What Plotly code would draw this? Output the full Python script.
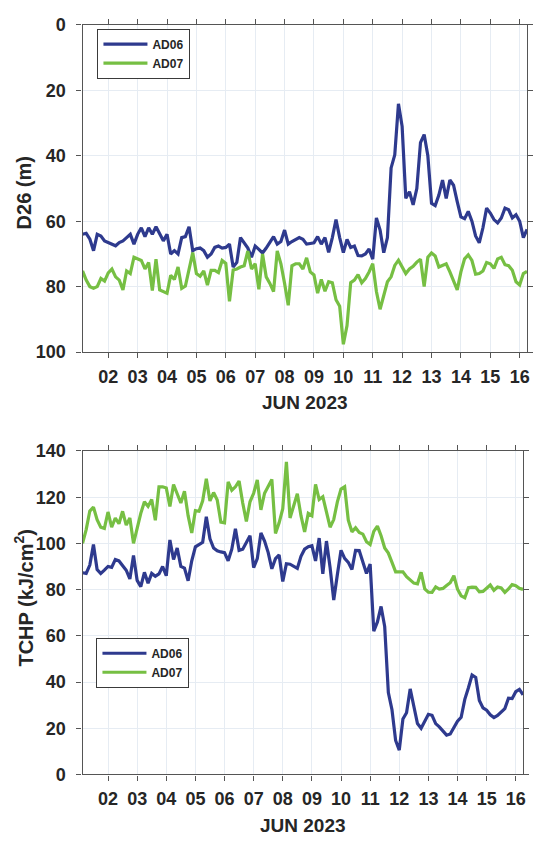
import pandas as pd
import plotly.graph_objects as go

# 3-hourly samples, 2023-06-01 03:00 .. 2023-06-16 06:00
times = pd.date_range("2023-06-01 03:00", periods=122, freq="3h")

d26_ad06 = [
    64, 63.7, 65.5, 69, 64, 64.5, 66, 66.5, 67, 67.5,
    66.5, 66, 65, 64, 67, 64, 62, 64.7, 62, 64,
    61.7, 63.7, 66, 64, 70, 69, 70, 65, 64.7, 61.7,
    69, 68.4, 68.2, 69, 71, 70, 68, 67.6, 68.2, 68,
    67, 74, 72.6, 65, 66.6, 68.2, 71, 67.6, 68.6, 69.7,
    68.2, 66.5, 64.7, 67, 66.2, 62.7, 67, 66.2, 65.5, 65,
    65.5, 67, 66.8, 66.6, 64.7, 67, 65, 69.5, 65, 59.5,
    65, 69.6, 65.6, 68, 67.6, 70.5, 70.6, 70, 68.5, 71.6,
    59, 62.7, 69.6, 65, 43.7, 39.7, 24.1, 31, 53, 51,
    55, 50, 36, 33.5, 40, 54.5, 55.2, 52, 47.4, 53,
    47.4, 49, 54, 58.7, 59.2, 57, 60, 64.5, 66.6, 62,
    56, 57.5, 59.5, 60.5, 59, 56, 56.5, 59, 58, 60,
    65, 62.5,
]

d26_ad07 = [
    75.2, 78, 80, 80.5, 80, 77.5, 78.3, 75.8, 74.6, 77,
    78, 81, 75.2, 76, 71, 71.6, 72, 74.6, 72.6, 81.2,
    71.6, 81, 81.5, 82, 76.5, 77.8, 74, 80.5, 79.8, 75,
    69.6, 76, 76.8, 75.2, 79.5, 75, 75, 75.7, 72, 72.9,
    84.5, 74.9, 74.6, 74, 73.6, 69.1, 74.6, 73, 80.8, 70,
    77, 79, 81.5, 69.1, 73, 79, 85.7, 73.6, 73, 73,
    74.6, 71.2, 75.5, 76.4, 82, 77.8, 81.4, 78.5, 78.8, 84,
    86, 97.6, 91.9, 78.8, 78, 76.3, 78.8, 77.5, 75.5, 73,
    81.5, 86.9, 83, 78.5, 77, 73.5, 71.9, 74, 76, 74.6,
    73.8, 72.5, 71.6, 80, 71, 69.7, 70.6, 74, 73.5, 73,
    75.5, 78, 81, 75.5, 71.5, 70.3, 72, 76.2, 76, 75.2,
    72.6, 73, 74.4, 71.5, 71, 73.3, 73.6, 75, 78.5, 79.5,
    76, 75.3,
]

tchp_ad06 = [
    87.3, 87, 90.6, 99.5, 88.7, 87, 88.4, 90, 89.6, 93,
    92.4, 90.6, 88.4, 84.6, 94.8, 84, 81.3, 87.5, 82.8, 87,
    85.8, 86.8, 90, 86, 101.5, 93, 98, 90, 89.3, 83.8,
    92.5, 98.5, 99.5, 100.5, 111.5, 102, 98, 96.8, 96.3, 96,
    92.5, 97.5, 106.3, 97, 97.5, 100.5, 103.3, 89.5, 93.4, 104.5,
    101, 96, 89, 93.4, 95, 83.5, 91.2, 91, 90, 89.2,
    94.4, 97.5, 98.6, 99, 92.4, 102.3, 86.8, 101, 89.5, 75.5,
    86.5, 97, 93.5, 91.8, 88.7, 97, 96.9, 91.6, 87, 91,
    62, 66, 72.7, 64, 35.4, 28, 14.7, 10.5, 24, 26.7,
    37, 29.5, 22, 20, 23, 26, 25.6, 22, 20.6, 19,
    17, 17.5, 20.3, 23, 24.7, 32.5, 37.5, 43, 42, 32,
    28.8, 27.8, 25.8, 24.6, 25.5, 26.8, 28.5, 33, 32.8, 35.8,
    36.8, 34.5,
]

tchp_ad07 = [
    100, 106, 114, 115.7, 110.3, 107, 106.5, 113.6, 107, 111,
    108.5, 113.9, 107.9, 111, 100, 106.5, 113, 118, 116, 119,
    110, 124.5, 124.5, 124, 116, 125.5, 121, 117.5, 122.6, 112,
    104.5, 114.2, 113.9, 118.4, 128, 118.4, 122, 118.8, 109.2, 108.9,
    126.6, 123, 124.5, 127, 117.5, 109.5, 118, 121.7, 127.5, 114.5,
    121.7, 124.5, 127.7, 104.3, 108.9, 115, 135.3, 111, 116, 121.5,
    112, 105, 113, 112, 125.5, 119, 120.2, 114, 107, 110.3,
    118, 123.5, 124.5, 110, 105, 106.8, 104.7, 104, 100.7, 99.5,
    105.2, 107.5, 103.3, 98, 95.8, 91.8, 87.7, 87.7, 87.7, 85.6,
    84, 82.8, 82.5, 87.5, 80.3, 78.9, 78.8, 81.2, 80.2, 80.5,
    81.8, 83, 86, 80.2, 77.3, 76.5, 80.8, 81.1, 81, 79,
    79.2, 80.8, 82, 79.7, 81.1, 80.7, 78.8, 80.3, 82.2, 81.7,
    80.6, 80.1,
]

day_ticks = pd.date_range("2023-06-02", "2023-06-16", freq="D")
day_labels = [d.strftime("%d") for d in day_ticks]
x_range = ["2023-06-01 03:00", "2023-06-16 06:00"]

BLUE = "#2e3a8e"
GREEN = "#76bf43"
INK = "#262626"
AXIS = "#555555"
GRID = "#e6ecf3"
FONT = "Liberation Sans, Arial, sans-serif"
W, H = 534, 843

fig = go.Figure()
fig.add_trace(go.Scatter(x=times, y=d26_ad06, mode="lines", name="AD06",
                         line=dict(color=BLUE, width=3.2), xaxis="x", yaxis="y",
                         legend="legend"))
fig.add_trace(go.Scatter(x=times, y=d26_ad07, mode="lines", name="AD07",
                         line=dict(color=GREEN, width=3.2), xaxis="x", yaxis="y",
                         legend="legend"))
fig.add_trace(go.Scatter(x=times, y=tchp_ad06, mode="lines", name="AD06",
                         line=dict(color=BLUE, width=3.2), xaxis="x2", yaxis="y2",
                         legend="legend2"))
fig.add_trace(go.Scatter(x=times, y=tchp_ad07, mode="lines", name="AD07",
                         line=dict(color=GREEN, width=3.2), xaxis="x2", yaxis="y2",
                         legend="legend2"))

tickfont = dict(family=FONT, size=18, color=INK, weight="bold")
common_x = dict(type="date", range=x_range, tickvals=day_ticks, ticktext=day_labels,
                ticks="outside", ticklen=5, tickcolor=AXIS, tickwidth=1.2,
                showline=True, linecolor=AXIS, linewidth=1.3, mirror="ticks",
                showgrid=True, gridcolor=GRID, gridwidth=1, tickfont=tickfont,
                ticklabelstandoff=3, zeroline=False)
common_y = dict(ticks="outside", ticklen=5, tickcolor=AXIS, tickwidth=1.2,
                showline=True, linecolor=AXIS, linewidth=1.3, mirror="ticks",
                showgrid=True, gridcolor=GRID, gridwidth=1, tickfont=tickfont,
                ticklabelstandoff=7, zeroline=False)

def px_x(p):
    return p / W

def px_y(p):
    return 1 - p / H

legend_style = dict(xanchor="left", yanchor="top", bgcolor="white",
                    bordercolor="#3a3a3a", borderwidth=1,
                    font=dict(family=FONT, size=12, color=INK, weight="bold"),
                    itemwidth=44, tracegroupgap=0)

fig.update_layout(
    width=W, height=H,
    margin=dict(l=0, r=0, t=0, b=0),
    paper_bgcolor="white", plot_bgcolor="white",
    xaxis=dict(domain=[px_x(83), px_x(530)], anchor="y", **common_x),
    yaxis=dict(domain=[px_y(350.4), px_y(15.3)], anchor="x", range=[100, 0],
               tickvals=[0, 20, 40, 60, 80, 100], **common_y),
    xaxis2=dict(domain=[px_x(83), px_x(526)], anchor="y2", **common_x),
    yaxis2=dict(domain=[px_y(783), px_y(451.7)], anchor="x2", range=[0, 140],
                tickvals=[0, 20, 40, 60, 80, 100, 120, 140], **common_y),
    legend=dict(x=px_x(98), y=px_y(19), **legend_style),
    legend2=dict(x=px_x(97), y=px_y(643), **legend_style),
    showlegend=True,
)

title_font = dict(family=FONT, size=19, color=INK, weight="bold")
fig.add_annotation(text="JUN 2023", xref="paper", yref="paper",
                   x=px_x(306.5), y=px_y(402), showarrow=False,
                   xanchor="center", yanchor="middle", font=title_font)
fig.add_annotation(text="JUN 2023", xref="paper", yref="paper",
                   x=px_x(304.5), y=px_y(835), showarrow=False,
                   xanchor="center", yanchor="middle", font=title_font)
fig.add_annotation(text="D26 (m)", xref="paper", yref="paper",
                   x=px_x(24), y=px_y(187), showarrow=False, textangle=-90,
                   xanchor="center", yanchor="middle",
                   font=dict(family=FONT, size=20, color=INK, weight="bold"))
fig.add_annotation(text="TCHP (kJ/cm<sup>2</sup>)", xref="paper", yref="paper",
                   x=px_x(24), y=px_y(602), showarrow=False, textangle=-90,
                   xanchor="center", yanchor="middle",
                   font=dict(family=FONT, size=20, color=INK, weight="bold"))

fig.write_html("out.html")
